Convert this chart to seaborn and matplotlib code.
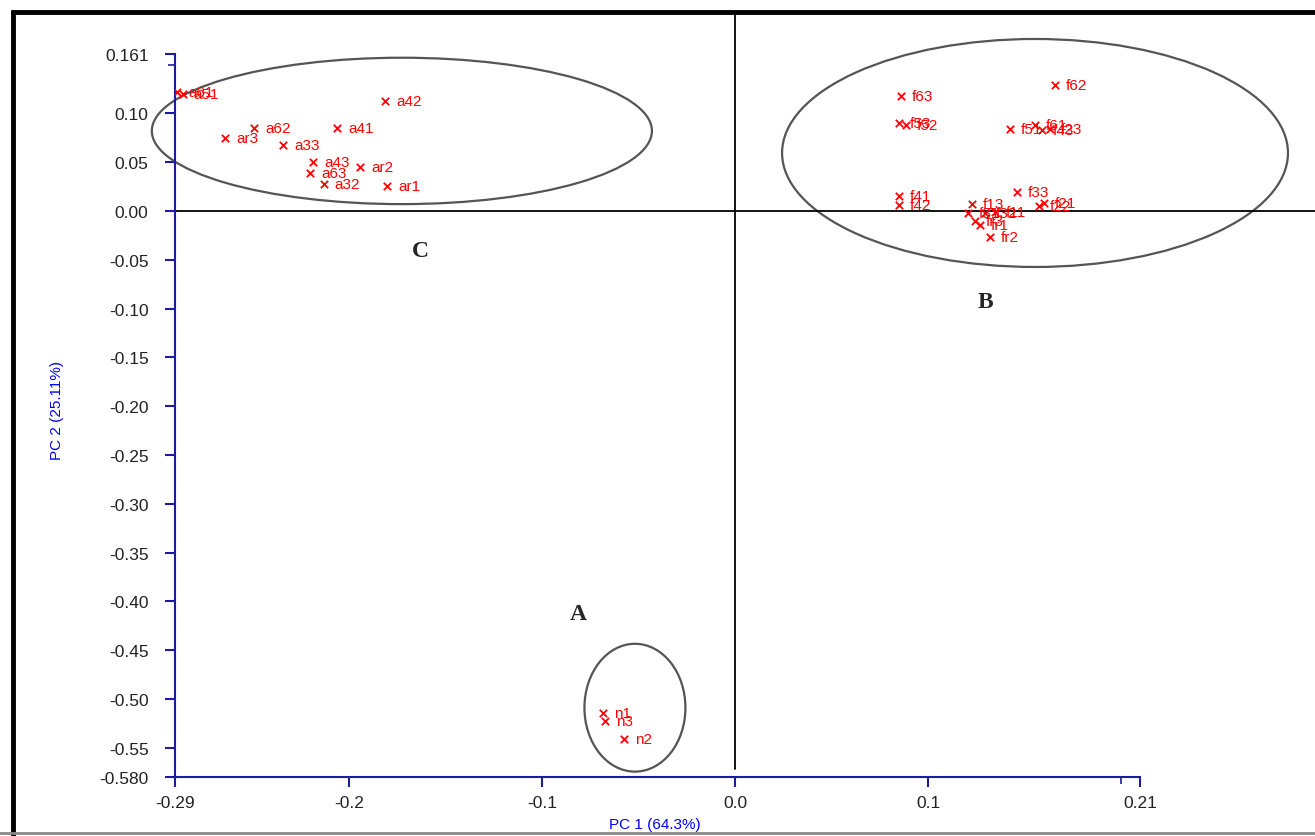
import pandas as pd
import matplotlib.pyplot as plt
import seaborn as sns
from matplotlib.patches import Ellipse
from matplotlib.lines import Line2D

# group C (a-samples)
labels_c = ['a61', 'a51', 'a42', 'a62', 'a41', 'ar3', 'a33', 'a43', 'ar2', 'a63', 'a32', 'ar1']
pc1_c = [-0.289, -0.286, -0.181, -0.249, -0.206, -0.264, -0.234, -0.2185, -0.194, -0.220, -0.213, -0.180]
pc2_c = [0.122, 0.120, 0.113, 0.085, 0.085, 0.075, 0.068, 0.050, 0.045, 0.039, 0.028, 0.026]

# group B (f-samples)
labels_b = ['f62', 'f63', 'f53', 'f52', 'f51', 'f61', 'f43', 'f23', 'f41', 'f42', 'f13', 'f33',
            'f21', 'f22', 'f31', 'f32', 'f11', 'fr3', 'fr1', 'fr2']
pc1_b = [0.1657, 0.0860, 0.0850, 0.0886, 0.1424, 0.1554, 0.1590, 0.1631, 0.0850, 0.0850, 0.1227, 0.1461,
         0.1600, 0.1574, 0.1207, 0.1295, 0.1347, 0.1243, 0.1269, 0.1321]
pc2_b = [0.1291, 0.1178, 0.0902, 0.0881, 0.0840, 0.0881, 0.0830, 0.0840, 0.0154, 0.0061, 0.0072, 0.0195,
         0.0082, 0.0051, -0.0020, -0.0020, -0.0010, -0.0102, -0.0143, -0.0266]

# group A (n-samples)
labels_a = ['n1', 'n3', 'n2']
pc1_a = [-0.0684, -0.0673, -0.0575]
pc2_a = [-0.514, -0.523, -0.541]

yticks = [0.161, 0.10, 0.05, 0.00, -0.05, -0.10, -0.15, -0.20, -0.25, -0.30, -0.35, -0.40, -0.45, -0.50, -0.55, -0.58]
ytick_labels = ['0.161', '0.10', '0.05', '0.00', '-0.05', '-0.10', '-0.15', '-0.20', '-0.25', '-0.30',
                '-0.35', '-0.40', '-0.45', '-0.50', '-0.55', '-0.580']
xticks = [-0.29, -0.2, -0.1, 0.0, 0.1, 0.21]
xtick_labels = ['-0.29', '-0.2', '-0.1', '0.0', '0.1', '0.21']

df = pd.DataFrame({
    'label': labels_c + labels_b + labels_a,
    'pc1': pc1_c + pc1_b + pc1_a,
    'pc2': pc2_c + pc2_b + pc2_a,
})

sns.set_style('white')
plt.rcParams['font.family'] = ['Liberation Sans', 'DejaVu Sans']

fig = plt.figure(figsize=(13.15, 8.37), dpi=100)
ax = fig.add_axes([175 / 1315, 1 - 778 / 837, 1 - 175 / 1315, (778 - 15) / 837])

sns.scatterplot(data=df, x='pc1', y='pc2', marker='x', color='red', s=28, linewidth=1.3, ax=ax, zorder=4)
for _, row in df.iterrows():
    ax.annotate(row['label'], (row['pc1'], row['pc2']), xytext=(8, 0), textcoords='offset points',
                va='center', ha='left', color='red', fontsize=11, zorder=4)

# reference axes through the origin
ax.axvline(0, ymin=0.01, ymax=1, color='black', lw=1.3, zorder=2)
ax.axhline(0, xmin=0, xmax=1, color='black', lw=1.3, zorder=2)

# group ellipses
ax.add_patch(Ellipse((-0.1725, 0.082), 0.259, 0.150, fill=False, ec='#555555', lw=1.6, clip_on=False))
ax.add_patch(Ellipse((0.1554, 0.0594), 0.262, 0.2336, fill=False, ec='#555555', lw=1.6, clip_on=False))
ax.add_patch(Ellipse((-0.0518, -0.509), 0.0523, 0.131, fill=False, ec='#555555', lw=1.6, clip_on=False))

for txt, x, y in [('C', -0.1631, -0.041), ('B', 0.1295, -0.0932), ('A', -0.0813, -0.4129)]:
    ax.text(x, y, txt, family='Liberation Serif', fontweight='bold', fontsize=17, ha='center', va='center')

ax.set_xlim(-0.29, 0.3004)
ax.set_ylim(-0.58, 0.2018)

blue = '#1c1ca0'
for side in ['top', 'right']:
    ax.spines[side].set_visible(False)
ax.spines['left'].set_bounds(-0.58, 0.161)
ax.spines['bottom'].set_bounds(-0.29, 0.21)
for side in ['left', 'bottom']:
    ax.spines[side].set_color(blue)
    ax.spines[side].set_linewidth(1.5)

ax.set_xticks(xticks)
ax.set_xticklabels(xtick_labels)
ax.set_yticks(yticks)
ax.set_yticklabels(ytick_labels)
ax.set_xticks([0.2], minor=True)
ax.set_yticks([0.15], minor=True)
ax.tick_params(axis='both', which='major', direction='out', length=7, width=1.5, color=blue,
               labelsize=12.5, labelcolor='#222222', left=True, bottom=True)
ax.tick_params(axis='y', which='major', pad=12)
ax.tick_params(axis='x', which='major', pad=6)
ax.tick_params(axis='both', which='minor', direction='out', length=5, width=1.2, color=blue,
               left=True, bottom=True)
ax.set_xlabel('')
ax.set_ylabel('')

fig.text(655 / 1315, 1 - 825 / 837, 'PC 1 (64.3%)', color='blue', fontsize=11, ha='center', va='center')
fig.text(57 / 1315, 1 - 410 / 837, 'PC 2 (25.11%)', color='blue', fontsize=11, ha='center', va='center',
         rotation=90)

# image frame
fig.add_artist(Line2D([13 / 1315, 13 / 1315], [0, 1 - 11 / 837], color='black', lw=3.5,
                      solid_capstyle='butt'))
fig.add_artist(Line2D([11 / 1315, 1], [1 - 13 / 837, 1 - 13 / 837], color='black', lw=3.5,
                      solid_capstyle='butt'))
fig.add_artist(Line2D([0, 1], [1 - 834 / 837, 1 - 834 / 837], color='#888888', lw=2))

plt.savefig('out.png', dpi=100)
